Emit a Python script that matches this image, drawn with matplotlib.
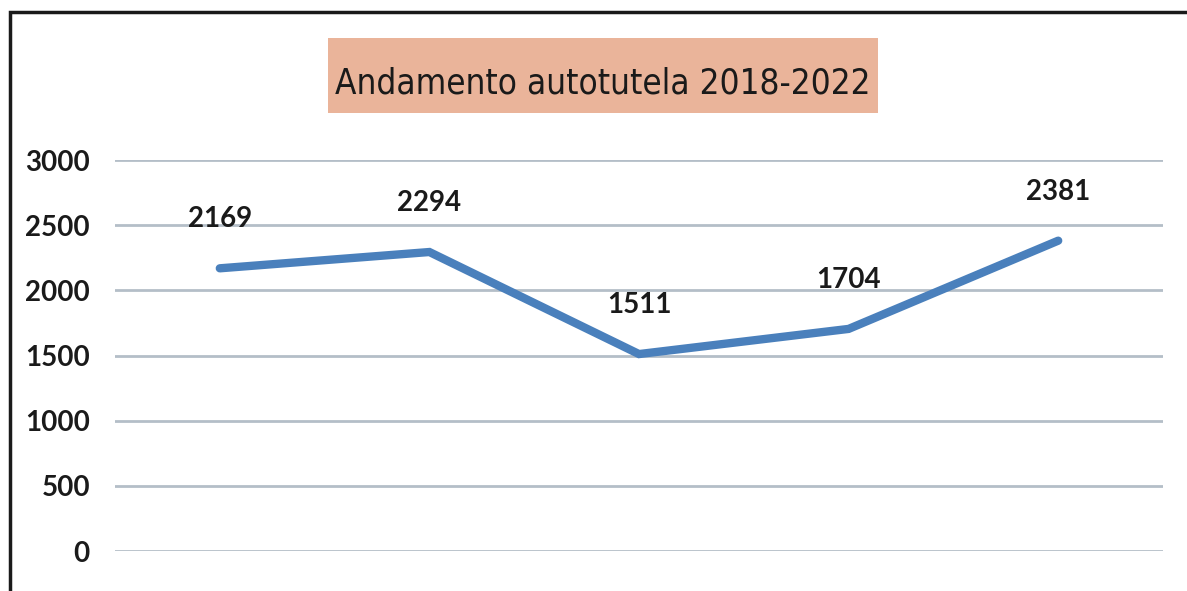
import matplotlib
matplotlib.use('Agg')
import matplotlib.pyplot as plt
from matplotlib.patches import Rectangle
from matplotlib import font_manager
from matplotlib.font_manager import FontProperties

# chart data
years = ['2018', '2019', '2020', '2021', '2022']
values = [2169, 2294, 1511, 1704, 2381]
y_ticks = [0, 500, 1000, 1500, 2000, 2500, 3000]
title = 'Andamento autotutela 2018-2022'

plt.rcParams['font.family'] = ['Lato', 'DejaVu Sans']

W, H = 1187, 591
fig = plt.figure(figsize=(W / 100, H / 100), dpi=100)
fig.patch.set_facecolor('white')

# axes placed in pixel terms of the reference
left, right, top, bottom = 115, 1163, 160, 551
ax = fig.add_axes([left / W, 1 - bottom / H, (right - left) / W, (bottom - top) / H])

x = list(range(len(years)))
ax.plot(x, values, color='#4a80bc', linewidth=6, solid_capstyle='round',
        solid_joinstyle='miter', clip_on=False, zorder=3)

for xi, v in zip(x, values):
    ax.annotate(str(v), (xi, v), xytext=(0, 26), textcoords='offset points',
                ha='center', va='bottom', fontsize=20, fontweight='bold',
                color='#1a1a1a', zorder=4)

ax.set_xlim(-0.5, len(years) - 0.5)
ax.set_ylim(0, 3000)
ax.set_yticks(y_ticks)
ax.set_xticks([])
ax.tick_params(axis='y', length=0, pad=18, labelsize=20, labelcolor='#1a1a1a')
for lbl in ax.get_yticklabels():
    lbl.set_fontweight('bold')
ax.grid(axis='y', color='#b4bec8', linewidth=2)
ax.set_axisbelow(True)
for s in ax.spines.values():
    s.set_visible(False)
ax.set_facecolor('none')

# title with salmon box (Calibri-like narrow face if available)
box_l, box_r, box_t, box_b = 328, 878, 38, 113
fig.add_artist(Rectangle((box_l / W, 1 - box_b / H), (box_r - box_l) / W, (box_b - box_t) / H,
                         transform=fig.transFigure, facecolor='#eab49a',
                         edgecolor='none', zorder=1))
cond = [f for f in font_manager.fontManager.ttflist
        if f.name == 'DejaVu Sans' and f.stretch == 'condensed' and f.weight == 400
        and f.style == 'normal']
if cond:
    tprop = FontProperties(fname=cond[0].fname, size=30)
else:
    tprop = FontProperties(family='Lato', size=30)
ttl = fig.text((box_l + box_r) / 2 / W, 1 - 93 / H, title, ha='center', va='baseline',
               fontproperties=tprop, color='#1a1a1a', zorder=2)
# fit the title to the width it has in the reference
renderer = fig.canvas.get_renderer()
tw = ttl.get_window_extent(renderer).width
ttl.set_fontsize(min(33, 30 * 534 / tw))

# scanned page frame
fig.add_artist(Rectangle((10 / W, -0.1), 1.2, 1 - 12 / H + 0.1,
                         transform=fig.transFigure, facecolor='none',
                         edgecolor='#1a1a1a', linewidth=2.5, zorder=5))

fig.savefig('out.png', dpi=100)
